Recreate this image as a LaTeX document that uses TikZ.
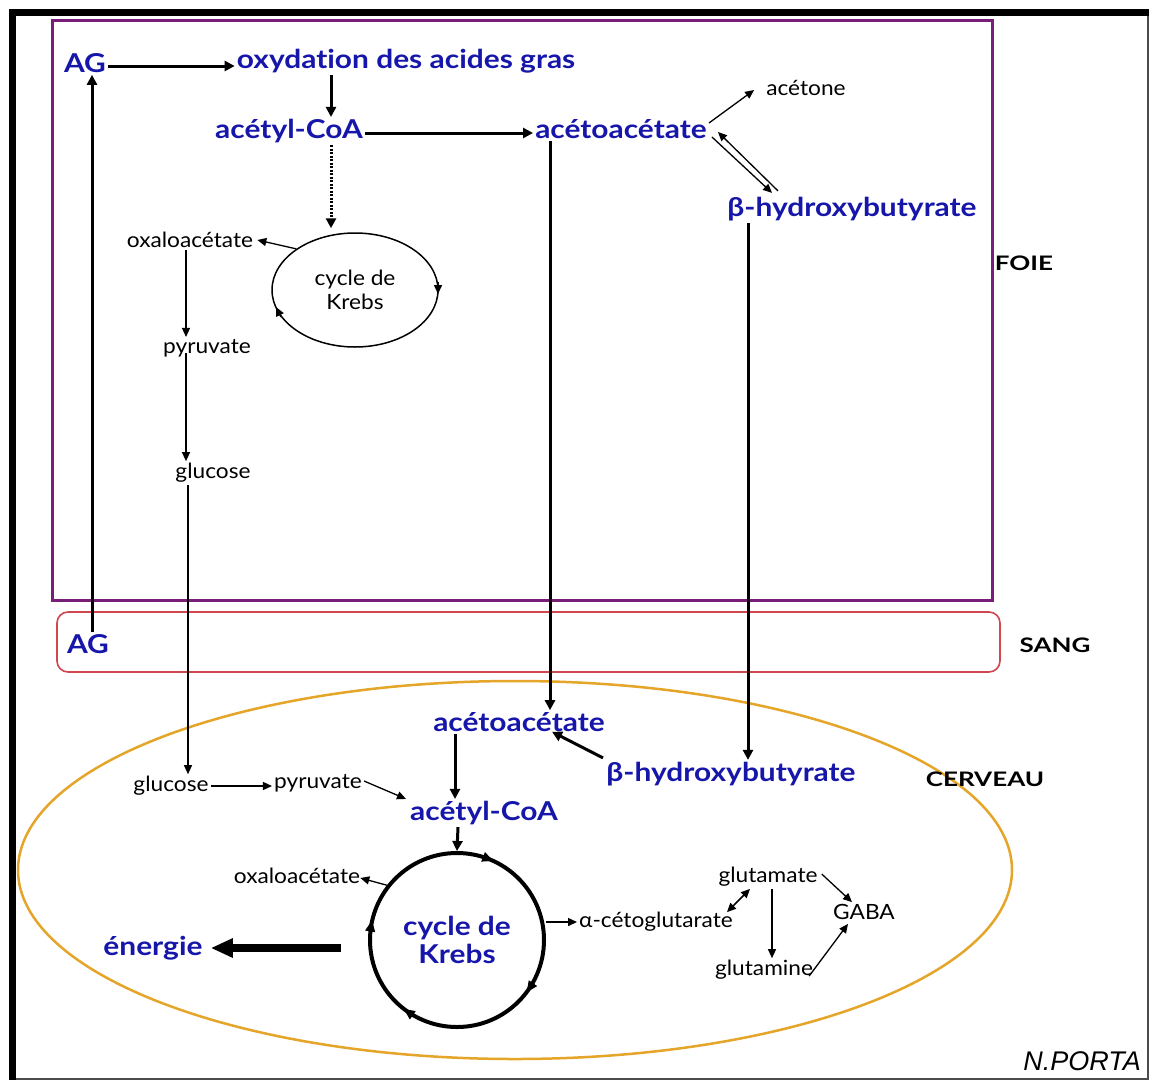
\documentclass[tikz,border=0pt]{standalone}
\usepackage{fontspec}
\setmainfont{Lato}[FakeStretch=1.08]
\newfontfamily\bluefont{Lato}[FakeStretch=1.15,Ligatures=NoCommon]
\newfontfamily\labfont{Lato}[FakeStretch=1.3]
\newfontfamily\arialfont{Liberation Sans}
\usetikzlibrary{arrows.meta,shapes.geometric}
\definecolor{tblue}{RGB}{22,22,170}
\definecolor{foiec}{RGB}{120,30,120}
\definecolor{sangc}{RGB}{210,70,80}
\definecolor{cervc}{RGB}{228,165,40}
\begin{document}
\begin{tikzpicture}[x=1pt,y=-1pt,
  bl/.style={text=tblue,font=\bluefont\fontsize{26}{28}\selectfont\bfseries,inner sep=2pt},
  sm/.style={font=\fontsize{21}{24}\selectfont,inner sep=2pt},
  lab/.style={font=\labfont\fontsize{20}{22}\selectfont\bfseries,inner sep=0pt},
  thk/.style={line width=3pt,-{Triangle[length=10pt,width=10pt]}},
  thn/.style={line width=1.3pt,-{Triangle[length=9pt,width=8pt]}},
  tip/.style={line width=1.5pt,-{Triangle[length=9pt,width=8pt]}},
  tipb/.style={line width=1pt,-{Triangle[length=11pt,width=10pt]}},
  dots/.style={line width=3pt,dash pattern=on 2pt off 1.5pt,-{Triangle[length=10pt,width=10pt]}}]
\useasboundingbox (0,0) rectangle (1150,1084);
\fill[white] (0,0) rectangle (1150,1084);
% outer frame
\draw[line width=2.5pt,black!70] (1148,12) -- (1148,1079) -- (12,1079);
\draw[line width=7pt] (12,1080) -- (12,12) -- (1149,12);
% compartments
\draw[foiec,line width=3pt] (52,20) rectangle (992,600);
\draw[sangc,line width=1.6pt,rounded corners=11pt] (57,612) rectangle (1000,672);
\draw[cervc,line width=2.5pt] (515,870) ellipse [x radius=497, y radius=189];
\node[lab] (foie) at (1024,263) {FOIE};
\node[lab] (sang) at (1055,645) {SANG};
\node[lab] (cerv) at (985,779) {CERVEAU};
\node[anchor=east,inner sep=0pt,font=\arialfont\itshape\fontsize{27}{29}\selectfont] (porta) at (1141,1061) {N.PORTA};
% liver
\node[bl] (ag1) at (85,63) {AG};
\node[bl] (oxy) at (406,61) {oxydation des acides gras};
\node[bl] (acoa1) at (289,131) {acétyl-CoA};
\node[bl] (aceto1) at (621,129) {acétoacétate};
\node[sm] (acetone) at (806,88) {acétone};
\node[bl] (bhb1) at (852,209) {β-hydroxybutyrate};
\node[sm] (oxalo1) at (190,240) {oxaloacétate};
\node[sm,ellipse,draw,line width=1.5pt,minimum width=166pt,minimum height=114pt,align=center,inner sep=0pt] (k1) at (355,290) {cycle de\\Krebs};
\node[sm] (pyr1) at (207,348) {pyruvate};
\node[sm] (gluc1) at (213,473) {glucose};
% blood
\node[bl] (ag2) at (88,644) {AG};
% brain
\node[bl] (aceto2) at (519,722) {acétoacétate};
\node[bl] (bhb2) at (731,774) {β-hydroxybutyrate};
\node[sm] (gluc2) at (171,786) {glucose};
\node[sm] (pyr2) at (318,783) {pyruvate};
\node[bl] (acoa2) at (484,813) {acétyl-CoA};
\node[sm] (oxalo2) at (297,876) {oxaloacétate};
\node[bl,circle,draw=black,line width=4pt,minimum size=174pt,align=center,inner sep=0pt] (k2) at (457,940) {cycle de\\Krebs};
\node[sm] (alpha) at (656,922) {α-cétoglutarate};
\node[bl] (energ) at (153,948) {énergie};
\node[sm] (glum) at (768,877) {glutamate};
\node[sm] (gaba) at (864,912) {GABA};
\node[sm] (glun) at (764,970) {glutamine};
% liver arrows
\draw[thk] ([yshift=-3pt]ag1.east) -- ([yshift=-3pt]ag1.east -| oxy.west);
\draw[thk] ([xshift=-75pt]oxy.south) -- ([xshift=42pt]acoa1.north);
\draw[thk] ([yshift=-2pt]acoa1.east) -- ([yshift=-2pt]acoa1.east -| aceto1.west);
\coordinate (d1) at ([xshift=42pt]acoa1.south);
\draw[dots] (d1) -- ([yshift=4pt]d1 |- k1.north);
\draw[thn] ([yshift=6pt]aceto1.east) -- ([xshift=-10pt,yshift=-2pt]acetone.west);
\draw[thn] ([xshift=3pt,yshift=-8pt]aceto1.east) -- ([xshift=-80pt,yshift=2pt]bhb1.north);
\draw[thn] ([xshift=-74pt,yshift=4pt]bhb1.north) -- ([xshift=9pt,yshift=-3pt]aceto1.east);
\draw[thk] ([xshift=-71pt]aceto1.south) -- ([xshift=31pt]aceto2.north);
\draw[thk] ([xshift=-104pt]bhb1.south) -- ([xshift=17pt]bhb2.north);
\draw[thk] ([xshift=4pt]ag2.north) -- ([xshift=7pt]ag1.south);
\draw[thn] (k1.145) -- ([xshift=2pt]oxalo1.east);
\draw[tip] (438,282) -- (438,294);
\draw[tip] (281,317) -- (276,307);
\draw[thn] ([xshift=-4pt]oxalo1.south) -- ([xshift=-21pt]pyr1.north);
\draw[thn] ([xshift=-21pt,yshift=6pt]pyr1.south) -- ([xshift=-27pt]gluc1.north);
\draw[thn] ([xshift=-25pt]gluc1.south) -- ([xshift=17pt]gluc2.north);
% brain arrows
\draw[thn] (gluc2.east) -- (gluc2.east -| pyr2.west);
\draw[thn] ([yshift=2pt]pyr2.east) -- ([xshift=-2pt]acoa2.north west);
\draw[thk] ([xshift=-64pt]aceto2.south) -- ([xshift=-29pt]acoa2.north);
\draw[thk] ([xshift=-128pt,yshift=2pt]bhb2.north) -- ([xshift=33pt,yshift=2pt]aceto2.south);
\draw[thk] ([xshift=-26pt]acoa2.south) -- (k2.north);
\draw[thn] (k2.142) -- ([xshift=-2pt,yshift=-2pt]oxalo2.east);
\draw[thn] (k2.east |- alpha.west) -- (alpha.west);
\coordinate (e1) at ([xshift=-27pt]k2.west |- energ.east);
\draw[line width=8pt,-{Triangle[length=22pt,width=18pt]}] (e1) -- ([xshift=6pt]energ.east);
\draw[line width=1.5pt,{Triangle[length=9pt,width=8pt]}-{Triangle[length=9pt,width=8pt]}] ([xshift=-8pt,yshift=-2pt]alpha.north east) -- ([xshift=-18pt]glum.south);
\draw[thn] ([xshift=4pt]glum.south) -- ([xshift=8pt]glun.north);
\draw[thn] ([xshift=2pt,yshift=3pt]glum.east) -- ([xshift=-12pt]gaba.north);
\draw[thn] ([xshift=-6pt,yshift=-6pt]glun.east) -- ([xshift=-16pt,yshift=-2pt]gaba.south);
% krebs circle tips (clockwise)
\draw[tipb] (484.0,857.2) -- (493.3,860.9);
\draw[tipb] (531.7,985.0) -- (526.7,992.2);
\draw[tipb] (412.0,1014.7) -- (403.8,1009.0);
\draw[tipb] (370.3,930.4) -- (372.0,920.5);
\end{tikzpicture}
\end{document}
